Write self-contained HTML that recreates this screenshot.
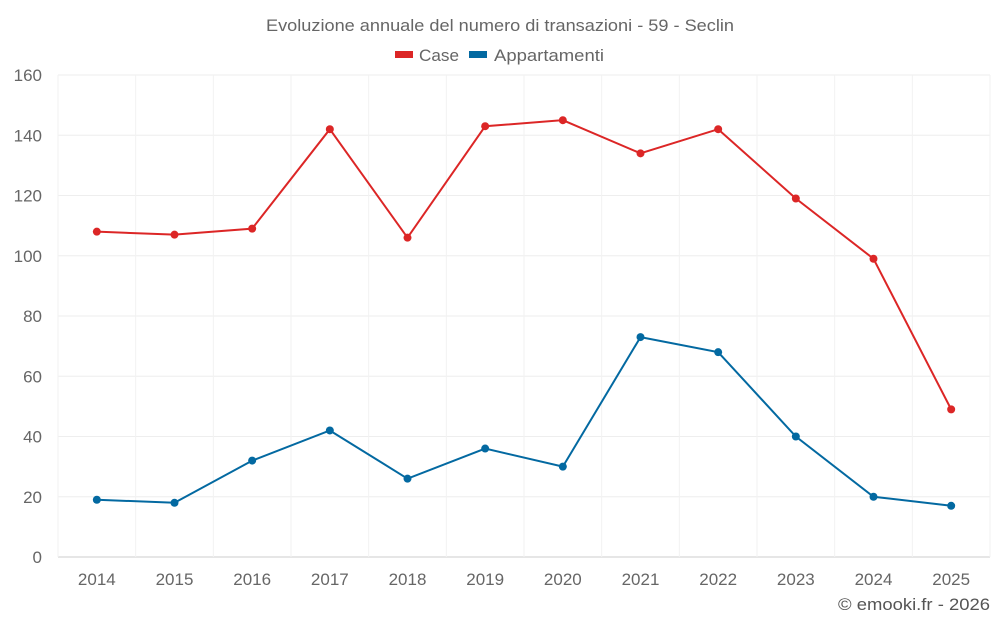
<!DOCTYPE html>
<html><head><meta charset="utf-8"><style>
body{margin:0;background:#fff;font-family:"Liberation Sans",sans-serif}
svg text{font-family:"Liberation Sans",sans-serif}
</style></head><body>
<svg id="c" width="1000" height="625">
<text x="266" y="31" textLength="468" lengthAdjust="spacingAndGlyphs" font-size="17" fill="#666">Evoluzione annuale del numero di transazioni - 59 - Seclin</text>
<g><rect x="395" y="51" width="18" height="7" fill="#dc2626"/><text x="419" y="61" textLength="40" lengthAdjust="spacingAndGlyphs" font-size="17" fill="#666">Case</text></g>
<g><rect x="469" y="51" width="18" height="7" fill="#0369a1"/><text x="494" y="61" textLength="110" lengthAdjust="spacingAndGlyphs" font-size="17" fill="#666">Appartamenti</text></g>
<g id="grid"></g><g id="series"></g>
<text x="838" y="610" textLength="152" lengthAdjust="spacingAndGlyphs" font-size="17" fill="#555">© emooki.fr - 2026</text>
</svg>
<script>
const categories=["2014","2015","2016","2017","2018","2019","2020","2021","2022","2023","2024","2025"];
const caseValues=[108,107,109,142,106,143,145,134,142,119,99,49];
const appValues=[19,18,32,42,26,36,30,73,68,40,20,17];
const yTicks=[0,20,40,60,80,100,120,140,160];
const L=58,R=990,T=75,B=557,yMax=160;
const NS="http://www.w3.org/2000/svg";
const bw=(R-L)/categories.length;
const x=i=>L+bw*(i+0.5);
const y=v=>B-(v/yMax)*(B-T);
function mk(t,a,p){const e=document.createElementNS(NS,t);for(const k in a)e.setAttribute(k,a[k]);p.appendChild(e);return e;}
const g=document.getElementById('grid'),s=document.getElementById('series');
yTicks.forEach(v=>{
 const l=mk('line',{x1:L,x2:R,y1:y(v),y2:y(v),stroke:v===0?'#ccc':'#eee'},g);
 
 
 const t=mk('text',{x:L-16,y:y(v)+6,'text-anchor':'end','font-size':17,fill:'#666'},g);t.textContent=v;
 
 
});
for(let i=0;i<=categories.length;i++){const l=mk('line',{x1:L+bw*i,x2:L+bw*i,y1:T,y2:B,stroke:'#f2f2f2'},g);
 
 }
categories.forEach((c,i)=>{const t=mk('text',{x:x(i),y:585,'text-anchor':'middle','font-size':17,fill:'#666'},g);t.textContent=c;
 
 });
function series(vals,col,name){
 const p=mk('polyline',{points:vals.map((v,i)=>x(i)+','+y(v)).join(' '),fill:'none',stroke:col,'stroke-width':2},s);
 
 
 vals.forEach((v,i)=>{const d=mk('circle',{cx:x(i),cy:y(v),r:4,fill:col},s);
  
  });
}
series(caseValues,'#dc2626','case');
series(appValues,'#0369a1','appartamenti');
</script>
</body></html>
